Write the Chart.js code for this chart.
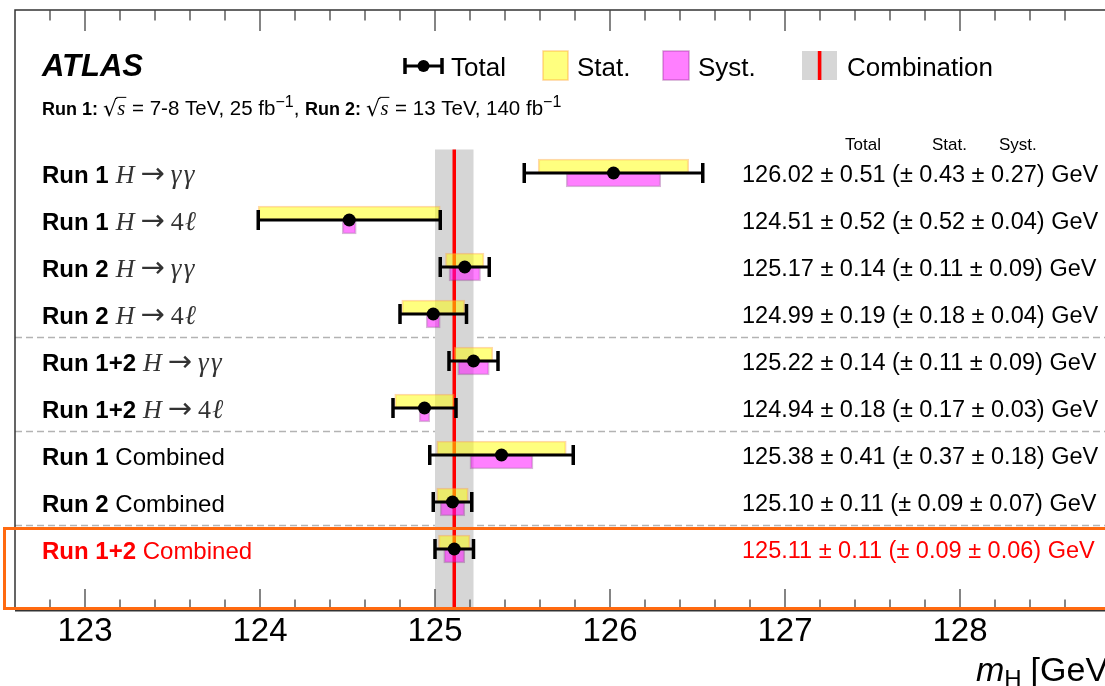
<!DOCTYPE html>
<html><head><meta charset="utf-8">
<script src="https://cdn.jsdelivr.net/npm/chart.js@4.4.1/dist/chart.umd.min.js"></script>
<style>html,body{margin:0;padding:0;background:#fff;overflow:hidden;width:1105px;height:686px}canvas{display:block}</style>
</head><body><canvas id="c" width="1125" height="686" style="width:1125px;height:686px"></canvas>
<script>
// ---- data ----
const runLabels = ['Run 1','Run 1','Run 2','Run 2','Run 1+2','Run 1+2','Run 1','Run 2','Run 1+2'];
const channelLabels = ['H→γγ','H→4ℓ','H→γγ','H→4ℓ','H→γγ','H→4ℓ','Combined','Combined','Combined'];
const massValues  = [126.02,124.51,125.17,124.99,125.22,124.94,125.38,125.10,125.11];
const totalErrors = [0.51,0.52,0.14,0.19,0.14,0.18,0.41,0.11,0.11];
const statErrors  = [0.43,0.52,0.11,0.18,0.11,0.17,0.37,0.09,0.09];
const systErrors  = [0.27,0.04,0.09,0.04,0.09,0.03,0.18,0.07,0.06];
const combinationValue = 125.11;
const combinationError = 0.11;
const separatorsAfterRow = [3,5,7];
const highlightRow = 8;
const xTickLabels = [123,124,125,126,127,128];
const xMinorStep = 0.2;
const xRange = [122.6, 128.9];
const yRange = [-3.468, 9.298];

const rows = massValues.map((_, i) => i);
const SANS = '"Liberation Sans", Arial, Helvetica, sans-serif';
const SERIF = '"Liberation Serif", "DejaVu Serif", serif';
const MATHC = '#333';

function drawSegs(ctx, x, y, segs) {
  for (const s of segs) {
    ctx.font = s.font; ctx.fillStyle = s.color || '#000';
    x += (s.pre || 0);
    ctx.fillText(s.text, x, y + (s.dy || 0));
    x += ctx.measureText(s.text).width + (s.post || 0);
  }
  return x;
}
function segsWidth(ctx, segs) {
  let w = 0;
  for (const s of segs) { ctx.font = s.font; w += (s.pre||0) + ctx.measureText(s.text).width + (s.post||0); }
  return w;
}
function sqrtS(ctx, x, y, size) {
  ctx.font = (size + 2) + 'px "DejaVu Serif", serif'; ctx.fillStyle = '#000';
  ctx.fillText('√', x, y + 1);
  const w = ctx.measureText('√').width - 1;
  ctx.font = 'italic ' + size + 'px ' + SERIF;
  const sw = ctx.measureText('s').width;
  ctx.fillText('s', x + w + 1, y);
  ctx.strokeStyle = '#000'; ctx.lineWidth = 1;
  ctx.beginPath(); ctx.moveTo(x + w, y - size * 0.86); ctx.lineTo(x + w + sw + 2, y - size * 0.86); ctx.stroke();
  return x + w + sw + 2;
}

const forestPlugin = {
  id: 'forest',
  beforeDatasetsDraw(chart) {
    const {ctx, chartArea: ca, scales: {x, y}} = chart;
    ctx.save();
    ctx.strokeStyle = 'rgba(160,160,160,0.8)'; ctx.lineWidth = 1.5; ctx.setLineDash([7, 4]);
    for (const r of separatorsAfterRow) {
      const py = y.getPixelForValue(r + 0.5);
      ctx.beginPath(); ctx.moveTo(ca.left, py); ctx.lineTo(ca.right, py); ctx.stroke();
    }
    ctx.setLineDash([]);
    const bTop = y.getPixelForValue(-0.5);
    const bl = x.getPixelForValue(combinationValue - combinationError);
    const br = x.getPixelForValue(combinationValue + combinationError);
    ctx.fillStyle = '#d6d6d6';
    ctx.fillRect(bl, bTop, br - bl, ca.bottom - bTop);
    const cx = x.getPixelForValue(combinationValue);
    ctx.strokeStyle = '#ff0000'; ctx.lineWidth = 3.5;
    ctx.beginPath(); ctx.moveTo(cx, bTop); ctx.lineTo(cx, ca.bottom); ctx.stroke();
    ctx.restore();
  },
  afterDatasetsDraw(chart) {
    const {ctx, scales: {x, y}} = chart;
    ctx.save();
    ctx.strokeStyle = '#000';
    rows.forEach(i => {
      const py = y.getPixelForValue(i);
      const l = x.getPixelForValue(massValues[i] - totalErrors[i]);
      const r = x.getPixelForValue(massValues[i] + totalErrors[i]);
      ctx.lineWidth = 3;
      ctx.beginPath(); ctx.moveTo(l, py); ctx.lineTo(r, py); ctx.stroke();
      ctx.lineWidth = 3.5;
      ctx.beginPath(); ctx.moveTo(l, py - 10); ctx.lineTo(l, py + 10); ctx.moveTo(r, py - 10); ctx.lineTo(r, py + 10); ctx.stroke();
    });
    ctx.restore();
  },
  afterDraw(chart) {
    const {ctx, chartArea: ca, scales: {x, y}} = chart;
    ctx.save();
    // frame
    ctx.strokeStyle = '#333'; ctx.lineWidth = 1.5;
    ctx.beginPath();
    ctx.moveTo(ca.left, ca.bottom); ctx.lineTo(ca.left, ca.top); ctx.lineTo(chart.width, ca.top);
    ctx.stroke();
    ctx.lineWidth = 2;
    ctx.beginPath(); ctx.moveTo(ca.left, ca.bottom + 0.5); ctx.lineTo(chart.width, ca.bottom + 0.5); ctx.stroke();
    // inward ticks
    ctx.lineWidth = 1.3; ctx.strokeStyle = '#444';
    for (const t of x.ticks) {
      const px = x.getPixelForValue(t.value);
      if (px <= ca.left + 1 || px >= ca.right - 1) continue;
      const major = xTickLabels.some(v => Math.abs(v - t.value) < 1e-6);
      const len = major ? 21 : 10.5;
      ctx.beginPath();
      ctx.moveTo(px, ca.top); ctx.lineTo(px, ca.top + len);
      ctx.moveTo(px, ca.bottom); ctx.lineTo(px, ca.bottom - len);
      ctx.stroke();
    }
    // highlight box
    const hTop = y.getPixelForValue(highlightRow - 0.5) + 3;
    ctx.strokeStyle = '#ff6a10'; ctx.lineWidth = 3;
    ctx.strokeRect(4.5, hTop, chart.width, ca.bottom - 1.5 - hTop);

    // row labels and values
    ctx.textBaseline = 'alphabetic';
    rows.forEach(i => {
      const py = y.getPixelForValue(i);
      const col = i === highlightRow ? '#ff0000' : '#000';
      const segs = [{text: runLabels[i], font: 'bold 24px ' + SANS, color: col, post: 7}];
      const ch = channelLabels[i];
      if (ch.indexOf('→') >= 0) {
        const [a, b] = ch.split('→');
        segs.push({text: a, font: 'italic 26px ' + SERIF, color: MATHC, post: 6});
        segs.push({text: '→', font: '29px "DejaVu Sans ExtraLight", "DejaVu Sans", sans-serif', color: MATHC, post: 6, dy: 0});
        const m = b.match(/^(\d*)(.*)$/);
        if (m[1]) segs.push({text: m[1], font: '26px ' + SERIF, color: MATHC, post: 1});
        segs.push({text: m[2].split('').join('\u200A'), font: 'italic 27px ' + SERIF, color: MATHC});
      } else {
        segs[0].post = 0;
        segs.push({text: ' ' + ch, font: '24px ' + SANS, color: col});
      }
      drawSegs(ctx, 42, py + 10, segs);
      const txt = massValues[i].toFixed(2) + ' ± ' + totalErrors[i].toFixed(2) + ' (± ' +
                  statErrors[i].toFixed(2) + ' ± ' + systErrors[i].toFixed(2) + ') GeV';
      ctx.font = '23.5px ' + SANS; ctx.fillStyle = col;
      ctx.fillText(txt, 742, py + 9);
    });
    // column headers
    ctx.font = '17px ' + SANS; ctx.fillStyle = '#000';
    ctx.fillText('Total', 845, 150); ctx.fillText('Stat.', 932, 150); ctx.fillText('Syst.', 999, 150);

    // ATLAS
    ctx.font = 'italic bold 31px ' + SANS; ctx.fillStyle = '#000';
    ctx.fillText('ATLAS', 42, 76);
    // subtitle
    let sx = 42; const sb = 115; const fs = 20.5;
    sx = drawSegs(ctx, sx, sb, [{text: 'Run 1:', font: 'bold 18px ' + SANS, post: 5}]);
    sx = sqrtS(ctx, sx, sb, fs);
    sx = drawSegs(ctx, sx, sb, [{text: ' = 7-8 TeV, 25 fb', font: fs + 'px ' + SANS},
      {text: '−1', font: '16px ' + SANS, dy: -8}, {text: ', ', font: fs + 'px ' + SANS},
      {text: 'Run 2:', font: 'bold 18px ' + SANS, post: 5}]);
    sx = sqrtS(ctx, sx, sb, fs);
    drawSegs(ctx, sx, sb, [{text: ' = 13 TeV, 140 fb', font: fs + 'px ' + SANS},
      {text: '−1', font: '16px ' + SANS, dy: -8}]);

    // legend
    const ly = 66;
    ctx.strokeStyle = '#000'; ctx.lineWidth = 3;
    ctx.beginPath(); ctx.moveTo(405, ly); ctx.lineTo(442, ly); ctx.stroke();
    ctx.lineWidth = 3.5;
    ctx.beginPath(); ctx.moveTo(405, ly - 8); ctx.lineTo(405, ly + 8); ctx.moveTo(442, ly - 8); ctx.lineTo(442, ly + 8); ctx.stroke();
    ctx.fillStyle = '#000'; ctx.beginPath(); ctx.arc(423.5, ly, 6, 0, Math.PI * 2); ctx.fill();
    ctx.font = '26px ' + SANS;
    ctx.fillText('Total', 451, 76);
    ctx.fillStyle = 'rgba(255,255,0,0.5)'; ctx.fillRect(543, 51, 25, 29);
    ctx.strokeStyle = 'rgba(255,170,60,0.5)'; ctx.lineWidth = 1.5; ctx.strokeRect(543, 51, 25, 29);
    ctx.fillStyle = '#000'; ctx.fillText('Stat.', 577, 76);
    ctx.fillStyle = 'rgba(255,0,255,0.5)'; ctx.fillRect(663, 51, 26, 29);
    ctx.strokeStyle = 'rgba(140,40,140,0.4)'; ctx.strokeRect(663, 51, 26, 29);
    ctx.fillStyle = '#000'; ctx.fillText('Syst.', 698, 76);
    ctx.fillStyle = '#d6d6d6'; ctx.fillRect(802, 51, 35, 29);
    ctx.fillStyle = '#ff0000'; ctx.fillRect(817.8, 51, 3.6, 29);
    ctx.fillStyle = '#000'; ctx.fillText('Combination', 847, 76);

    // x axis title
    const tsegs = [{text: 'm', font: 'italic 34px ' + SANS}, {text: 'H', font: '24px ' + SANS, dy: 6, post: 9},
                   {text: '[GeV]', font: '34px ' + SANS}];
    const tw = segsWidth(ctx, tsegs);
    drawSegs(ctx, ca.right - tw, 681, tsegs);
    ctx.restore();
  }
};

const dotData = rows.map(i => ({x: massValues[i], y: i}));
const statData = rows.map(i => ({x: [massValues[i] - statErrors[i], massValues[i] + statErrors[i]], y: i}));
const systData = rows.map(i => ({x: [massValues[i] - systErrors[i], massValues[i] + systErrors[i]], y: i}));

new Chart(document.getElementById('c'), {
  type: 'bar',
  data: {
    datasets: [
      {type: 'scatter', label: 'Total', data: dotData, pointRadius: 6.5, pointBackgroundColor: '#000',
       pointBorderWidth: 0, pointBorderColor: '#000', order: 0},
      {type: 'bar', label: 'Stat.', data: statData, indexAxis: 'y', backgroundColor: 'rgba(255,255,0,0.5)',
       borderColor: 'rgba(255,170,60,0.45)', borderWidth: 1.5, borderSkipped: false, barThickness: 14, order: 1},
      {type: 'bar', label: 'Syst.', data: systData, indexAxis: 'y', backgroundColor: 'rgba(255,0,255,0.5)',
       borderColor: 'rgba(140,40,140,0.35)', borderWidth: 1.5, borderSkipped: false, barThickness: 14, order: 2}
    ]
  },
  options: {
    indexAxis: 'y',
    responsive: false, animation: false, devicePixelRatio: 1, events: [],
    layout: {padding: {left: 15, right: 7.5, top: 10, bottom: 0}},
    plugins: {legend: {display: false}, tooltip: {enabled: false}},
    scales: {
      x: {type: 'linear', position: 'bottom', min: xRange[0], max: xRange[1], offset: false,
          grid: {display: false, drawTicks: false, offset: false}, border: {display: false},
          ticks: {stepSize: xMinorStep, autoSkip: false, maxRotation: 0, padding: 2, color: '#000',
                  font: {family: 'Liberation Sans', size: 33},
                  callback: (v) => { const m = xTickLabels.find(t => Math.abs(t - v) < 1e-6); return m === undefined ? '' : String(m); }},
          afterFit: (s) => { s.height = 76; }},
      y: {type: 'linear', reverse: true, min: yRange[0], max: yRange[1], display: false, offset: false,
          grid: {offset: false}}
    }
  },
  plugins: [forestPlugin]
});
</script>
</body></html>
